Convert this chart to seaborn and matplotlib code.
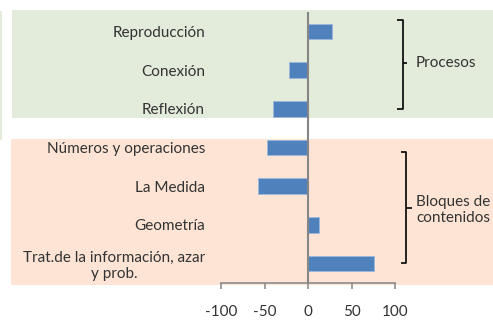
import matplotlib
matplotlib.use("Agg")
import matplotlib.pyplot as plt
from matplotlib.patches import Rectangle
from matplotlib.lines import Line2D
import seaborn as sns
import pandas as pd

# Categories (top to bottom) and their differences
categories = [
    "Reproducción",
    "Conexión",
    "Reflexión",
    "Números y operaciones",
    "La Medida",
    "Geometría",
    "Trat.de la información, azar\ny prob.",
]
values = [28, -22, -40, -47, -58, 13, 76]
x_ticks = [-100, -50, 0, 50, 100]

group_labels = ["Procesos", "Bloques de\ncontenidos"]

df = pd.DataFrame({"categoria": categories, "valor": values})

sns.set_theme(style="white")
plt.rcParams["font.family"] = ["Lato", "DejaVu Sans"]

W, H = 493, 320
FS = 11
fig = plt.figure(figsize=(W / 100, H / 100), dpi=100)
fig.patch.set_facecolor("white")

def px_rect(x0, y0, x1, y1, color):
    fig.patches.append(Rectangle((x0 / W, 1 - y1 / H), (x1 - x0) / W, (y1 - y0) / H,
                                 transform=fig.transFigure, facecolor=color,
                                 edgecolor="none", zorder=-10))

green = "#E3EBDA"
peach = "#FDE4D5"
px_rect(12, 10, 493, 118, green)
px_rect(0, 11, 2, 140, green)
px_rect(11, 139, 493, 285, peach)

ax = fig.add_axes([221 / W, 1 - 283 / H, (395 - 221) / W, (283 - 12) / H])
ax.set_facecolor("none")
ax.set_zorder(1)

sns.barplot(data=df, x="valor", y="categoria", orient="h", color="#4F81BD",
            saturation=1, width=0.4, edgecolor="#9DB7DA", linewidth=0.6, ax=ax)

ax.set_xlim(-100, 100)
ax.set_ylim(6.5, -0.5)
ax.set_xticks(x_ticks)
ax.set_xticklabels([str(t) for t in x_ticks])
ax.set_xlabel("")
ax.set_ylabel("")

axis_gray = "#868686"
text_color = "#333333"
for s in ["top", "right", "left"]:
    ax.spines[s].set_visible(False)
ax.spines["bottom"].set_color(axis_gray)
ax.spines["bottom"].set_linewidth(1.1)
ax.axvline(0, color=axis_gray, lw=1.5, zorder=3)

ax.tick_params(axis="x", direction="out", length=4.5, width=1.1, color=axis_gray,
               pad=11, labelsize=FS, labelcolor=text_color, bottom=True)
ax.tick_params(axis="y", length=0, pad=11.5, labelsize=FS, labelcolor=text_color)
for lab in ax.get_yticklabels():
    lab.set_multialignment("center")

def fig_line(xs, ys):
    fig.lines.append(Line2D([x / W for x in xs], [1 - y / H for y in ys],
                            transform=fig.transFigure, color="black", lw=1.2,
                            solid_capstyle="butt", zorder=5))

# Bracket for "Procesos"
fig_line([397, 403, 403, 397], [20, 20, 109, 109])
fig_line([403, 406.5], [63, 63])
fig.text(416 / W, 1 - 63 / H, group_labels[0], ha="left", va="center",
         fontsize=FS, color=text_color)

# Bracket for "Bloques de contenidos"
fig_line([400.5, 406, 406, 400.5], [152, 152, 263, 263])
fig_line([406, 411.5], [208, 208])
fig.text(416.5 / W, 1 - 210 / H, group_labels[1], ha="left", va="center",
         fontsize=FS, color=text_color, linespacing=1.2)

fig.savefig("out.png", dpi=100, facecolor="white")
